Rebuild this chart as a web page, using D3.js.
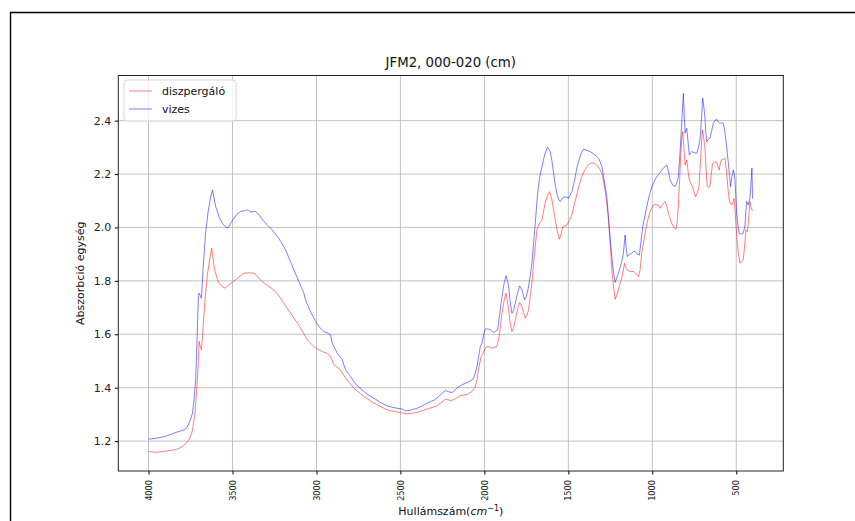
<!DOCTYPE html>
<html>
<head>
<meta charset="utf-8">
<script src="https://cdn.jsdelivr.net/npm/d3@7"></script>
<style>
  html, body { margin: 0; padding: 0; background: #fff; }
  svg { display: block; font-family: "DejaVu Sans", sans-serif; }
</style>
</head>
<body>
<svg id="chart" width="855" height="521"></svg>
<script>
// ---- data (wavenumber cm^-1, absorbance) ----
const title = "JFM2, 000-020 (cm)";
const seriesNames = ["diszpergáló", "vizes"];
const xTicks = [4000, 3500, 3000, 2500, 2000, 1500, 1000, 500];
const yTicks = [1.2, 1.4, 1.6, 1.8, 2.0, 2.2, 2.4];

const diszpergalo = [
[4000,1.161],[3960,1.158],[3925,1.160],[3890,1.163],[3848,1.167],[3820,1.172],[3798,1.180],[3775,1.192],
[3759,1.205],[3745,1.225],[3738,1.242],[3723,1.305],[3709,1.43],[3702,1.52],[3699,1.573],[3692,1.555],
[3685,1.542],[3678,1.60],[3665,1.72],[3650,1.82],[3636,1.88],[3624,1.922],[3615,1.88],[3608,1.845],
[3600,1.829],[3590,1.805],[3580,1.791],[3563,1.780],[3546,1.773],[3530,1.780],[3511,1.791],[3490,1.800],
[3471,1.810],[3450,1.820],[3432,1.829],[3400,1.830],[3372,1.829],[3350,1.815],[3322,1.797],[3290,1.782],
[3253,1.766],[3225,1.745],[3194,1.716],[3155,1.680],[3114,1.642],[3094,1.623],[3055,1.579],[3035,1.567],
[3005,1.548],[2965,1.535],[2936,1.529],[2916,1.517],[2896,1.486],[2857,1.467],[2827,1.436],[2777,1.398],
[2718,1.367],[2658,1.342],[2579,1.317],[2519,1.309],[2460,1.302],[2400,1.307],[2341,1.320],[2281,1.332],
[2232,1.357],[2200,1.352],[2183,1.355],[2143,1.370],[2100,1.375],[2073,1.386],[2054,1.404],[2044,1.43],
[2034,1.473],[2020,1.515],[2004,1.535],[1990,1.552],[1975,1.554],[1955,1.548],[1925,1.554],[1910,1.60],
[1895,1.679],[1880,1.735],[1871,1.754],[1862,1.72],[1856,1.691],[1846,1.64],[1836,1.61],[1826,1.625],
[1816,1.654],[1800,1.70],[1790,1.719],[1776,1.704],[1766,1.68],[1757,1.66],[1747,1.67],[1737,1.691],
[1727,1.74],[1717,1.791],[1702,1.90],[1687,1.991],[1672,2.015],[1657,2.028],[1645,2.07],[1638,2.09],
[1625,2.12],[1612,2.134],[1600,2.11],[1588,2.066],[1578,2.03],[1568,1.991],[1553,1.956],[1543,1.975],
[1533,2.003],[1509,2.009],[1495,2.025],[1479,2.047],[1465,2.085],[1450,2.122],[1435,2.16],[1420,2.19],
[1405,2.21],[1390,2.228],[1375,2.238],[1360,2.243],[1345,2.240],[1330,2.234],[1315,2.22],[1300,2.203],
[1290,2.17],[1281,2.141],[1271,2.09],[1261,2.028],[1251,1.94],[1241,1.841],[1231,1.78],[1221,1.731],
[1212,1.745],[1202,1.766],[1192,1.79],[1182,1.812],[1172,1.84],[1166,1.866],[1158,1.85],[1150,1.841],
[1132,1.835],[1112,1.835],[1100,1.829],[1082,1.816],[1073,1.84],[1063,1.904],[1043,1.978],[1030,2.02],
[1017,2.053],[1005,2.07],[994,2.084],[980,2.086],[964,2.084],[954,2.072],[940,2.085],[924,2.097],
[914,2.08],[904,2.053],[895,2.035],[885,2.016],[872,2.000],[860,1.993],[852,2.02],[845,2.078],
[838,2.17],[831,2.265],[825,2.33],[819,2.359],[812,2.30],[805,2.234],[795,2.253],[787,2.21],
[780,2.178],[770,2.165],[760,2.153],[750,2.13],[742,2.115],[732,2.13],[722,2.153],[712,2.26],
[702,2.365],[695,2.34],[687,2.303],[680,2.22],[673,2.153],[665,2.15],[657,2.153],[649,2.20],
[641,2.24],[630,2.245],[617,2.246],[610,2.23],[602,2.215],[595,2.24],[587,2.253],[577,2.255],
[567,2.259],[557,2.203],[550,2.15],[542,2.103],[535,2.09],[528,2.084],[520,2.095],[513,2.109],
[507,2.06],[501,2.003],[495,1.95],[488,1.904],[478,1.866],[468,1.87],[459,1.879],[450,1.93],
[443,1.991],[433,1.985],[426,2.04],[419,2.097],[414,2.08],[409,2.066],[400,2.066]
];

const vizes = [
[4000,1.207],[3960,1.210],[3925,1.214],[3890,1.220],[3848,1.230],[3820,1.236],[3788,1.242],[3770,1.252],
[3759,1.267],[3748,1.285],[3738,1.305],[3729,1.355],[3719,1.43],[3710,1.60],[3703,1.74],[3699,1.754],
[3692,1.745],[3685,1.735],[3675,1.85],[3660,1.98],[3645,2.06],[3630,2.115],[3619,2.14],[3610,2.11],
[3600,2.078],[3590,2.06],[3580,2.04],[3560,2.015],[3545,2.005],[3530,1.997],[3520,2.005],[3511,2.016],
[3490,2.035],[3470,2.052],[3451,2.06],[3430,2.062],[3411,2.066],[3390,2.058],[3362,2.06],[3340,2.045],
[3313,2.022],[3290,2.008],[3273,1.997],[3250,1.98],[3233,1.966],[3210,1.945],[3184,1.916],[3160,1.88],
[3134,1.841],[3100,1.79],[3075,1.754],[3065,1.729],[3040,1.69],[3005,1.648],[2980,1.625],[2956,1.610],
[2932,1.604],[2916,1.598],[2906,1.567],[2876,1.529],[2846,1.504],[2827,1.467],[2800,1.445],[2777,1.423],
[2750,1.403],[2718,1.386],[2690,1.372],[2658,1.361],[2620,1.345],[2579,1.332],[2550,1.327],[2519,1.323],
[2490,1.320],[2470,1.313],[2435,1.317],[2400,1.323],[2360,1.335],[2321,1.348],[2295,1.355],[2272,1.367],
[2250,1.380],[2232,1.389],[2210,1.384],[2192,1.382],[2160,1.400],[2143,1.407],[2133,1.411],[2100,1.420],
[2073,1.429],[2064,1.436],[2054,1.455],[2044,1.479],[2034,1.517],[2024,1.554],[2014,1.567],[2004,1.600],
[1994,1.620],[1980,1.620],[1965,1.617],[1945,1.606],[1921,1.617],[1908,1.68],[1895,1.741],[1883,1.79],
[1871,1.819],[1862,1.80],[1856,1.779],[1846,1.72],[1836,1.679],[1826,1.69],[1816,1.716],[1800,1.76],
[1790,1.781],[1776,1.766],[1761,1.729],[1751,1.74],[1741,1.766],[1729,1.81],[1717,1.866],[1707,1.94],
[1697,2.016],[1683,2.128],[1670,2.19],[1657,2.228],[1640,2.275],[1624,2.300],[1608,2.284],[1598,2.25],
[1588,2.203],[1578,2.16],[1568,2.128],[1558,2.105],[1548,2.097],[1535,2.11],[1519,2.115],[1499,2.109],
[1479,2.134],[1469,2.16],[1459,2.19],[1450,2.22],[1440,2.246],[1425,2.275],[1410,2.293],[1395,2.290],
[1380,2.287],[1365,2.282],[1350,2.275],[1335,2.268],[1320,2.259],[1310,2.245],[1300,2.228],[1287,2.178],
[1271,2.115],[1261,2.04],[1251,1.96],[1241,1.891],[1231,1.83],[1221,1.794],[1212,1.81],[1202,1.829],
[1192,1.85],[1182,1.872],[1172,1.904],[1162,1.972],[1155,1.92],[1148,1.891],[1135,1.90],[1122,1.904],
[1112,1.91],[1102,1.91],[1090,1.90],[1077,1.897],[1067,1.95],[1057,2.003],[1045,2.04],[1033,2.078],
[1018,2.12],[1003,2.153],[990,2.17],[974,2.19],[960,2.20],[944,2.215],[930,2.225],[914,2.234],
[904,2.21],[894,2.178],[880,2.16],[864,2.153],[855,2.165],[845,2.19],[835,2.28],[825,2.39],
[815,2.502],[810,2.42],[805,2.353],[795,2.371],[787,2.32],[780,2.272],[772,2.28],[765,2.284],
[750,2.28],[736,2.278],[725,2.30],[716,2.328],[708,2.40],[700,2.484],[693,2.45],[687,2.415],
[682,2.36],[676,2.321],[667,2.33],[657,2.334],[647,2.36],[637,2.39],[627,2.40],[617,2.405],
[607,2.395],[597,2.39],[587,2.392],[577,2.39],[567,2.353],[557,2.30],[547,2.24],[540,2.19],
[534,2.153],[526,2.19],[518,2.215],[512,2.20],[508,2.178],[503,2.12],[498,2.053],[490,2.01],
[483,1.978],[470,1.975],[459,1.978],[449,2.003],[444,2.05],[439,2.097],[429,2.084],[419,2.109],
[412,2.17],[407,2.222],[403,2.109],[400,2.11]
];

// ---- layout ----
const svg = d3.select("#chart");
const L = 118.3, R = 783.3, T = 75.5, B = 471;
const x = d3.scaleLinear().domain([4180, 220]).range([L, R]);
const y = d3.scaleLinear().domain([1.088, 2.569]).range([B, T]);

// outer frame (top and left edges visible)
svg.append("path").attr("d", "M10.5,521 L10.5,12.5 L855,12.5")
  .attr("fill", "none").attr("stroke", "#000").attr("stroke-width", 1.4);

// grid
const grid = svg.append("g").attr("stroke", "#b0b0b0").attr("stroke-width", 0.9).attr("opacity", 0.85);
xTicks.forEach(t => grid.append("line").attr("x1", x(t)).attr("x2", x(t)).attr("y1", T).attr("y2", B));
yTicks.forEach(t => grid.append("line").attr("x1", L).attr("x2", R).attr("y1", y(t)).attr("y2", y(t)));

// lines
const line = d3.line().x(d => x(d[0])).y(d => y(d[1]));
svg.append("path").datum(diszpergalo).attr("d", line)
  .attr("fill", "none").attr("stroke", "red").attr("stroke-opacity", 0.5).attr("stroke-width", 1);
svg.append("path").datum(vizes).attr("d", line)
  .attr("fill", "none").attr("stroke", "blue").attr("stroke-opacity", 0.5).attr("stroke-width", 1);

// axes
const xAxis = d3.axisBottom(x).tickValues(xTicks).tickSize(3.5).tickPadding(3).tickFormat(d3.format("d"));
const gx = svg.append("g").attr("transform", `translate(0,${B})`).call(xAxis);
gx.select(".domain").remove();
gx.selectAll("text").attr("font-size", 8.2).attr("font-family", "DejaVu Sans").attr("fill", "#222")
  .attr("transform", "rotate(-90)").attr("text-anchor", "end")
  .attr("x", -9).attr("y", 0).attr("dy", "0.32em");

const yAxis = d3.axisLeft(y).tickValues(yTicks).tickSize(3.5).tickPadding(3.5).tickFormat(d3.format(".1f"));
const gy = svg.append("g").attr("transform", `translate(${L},0)`).call(yAxis);
gy.select(".domain").remove();
gy.selectAll("text").attr("font-size", 11).attr("font-family", "DejaVu Sans").attr("fill", "#222");

// spines
svg.append("rect").attr("x", L).attr("y", T).attr("width", R - L).attr("height", B - T)
  .attr("fill", "none").attr("stroke", "#222").attr("stroke-width", 1);

// title & labels
svg.append("text").attr("x", (L + R) / 2).attr("y", 67).attr("text-anchor", "middle")
  .attr("font-size", 13.3).attr("fill", "#111").text(title);

const xl = svg.append("text").attr("x", (L + R) / 2).attr("y", 515).attr("text-anchor", "middle")
  .attr("font-size", 11).attr("fill", "#111");
xl.append("tspan").text("Hullámszám(");
xl.append("tspan").attr("font-style", "italic").text("cm");
xl.append("tspan").attr("font-size", 8).attr("dy", -4).text("−1");
xl.append("tspan").attr("dy", 4).text(")");

svg.append("text").attr("transform", `translate(84,${(T + B) / 2}) rotate(-90)`)
  .attr("text-anchor", "middle").attr("font-size", 11).attr("fill", "#111").text("Abszorbció egység");

// legend
const lg = svg.append("g");
lg.append("rect").attr("x", 124).attr("y", 80).attr("width", 112).attr("height", 41).attr("rx", 3)
  .attr("fill", "#fff").attr("fill-opacity", 0.8).attr("stroke", "#d6d6d6").attr("stroke-width", 1);
const colors = ["red", "blue"];
seriesNames.forEach((n, i) => {
  const yy = 91 + i * 18;
  lg.append("line").attr("x1", 129).attr("x2", 152).attr("y1", yy).attr("y2", yy)
    .attr("stroke", colors[i]).attr("stroke-opacity", 0.5).attr("stroke-width", 1);
  lg.append("text").attr("x", 162).attr("y", yy).attr("dy", "0.35em").attr("font-size", 11)
    .attr("fill", "#111").text(n);
});
</script>
</body>
</html>
